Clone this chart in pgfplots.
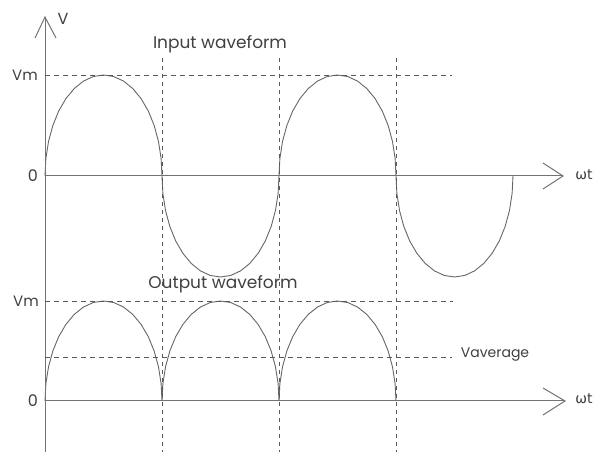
\documentclass[border=0pt]{standalone}
\usepackage{fontspec}
\setmainfont{Poppins}
\newfontfamily\greekfont{DejaVu Sans}
\usepackage{pgfplots}
\pgfplotsset{compat=1.18}
\usepackage{pgfplotstable}

% input waveform: omega t in degrees, V in units of Vm
\pgfplotstableread{
x y
0 0
1.37 0.174
5.43 0.342
12.06 0.5
21.06 0.643
32.15 0.766
45 0.866
59.22 0.940
74.37 0.985
90 1
105.63 0.985
120.78 0.940
135 0.866
147.85 0.766
158.94 0.643
167.94 0.5
174.57 0.342
178.63 0.174
180 0
181.37 -0.174
185.43 -0.342
192.06 -0.5
201.06 -0.643
212.15 -0.766
225 -0.866
239.22 -0.940
254.37 -0.985
270 -1
285.63 -0.985
300.78 -0.940
315 -0.866
327.85 -0.766
338.94 -0.643
347.94 -0.5
354.57 -0.342
358.63 -0.174
360 0
361.37 0.174
365.43 0.342
372.06 0.5
381.06 0.643
392.15 0.766
405 0.866
419.22 0.940
434.37 0.985
450 1
465.63 0.985
480.78 0.940
495 0.866
507.85 0.766
518.94 0.643
527.94 0.5
534.57 0.342
538.63 0.174
540 0
541.37 -0.174
545.43 -0.342
552.06 -0.5
561.06 -0.643
572.15 -0.766
585 -0.866
599.22 -0.940
614.37 -0.985
630 -1
645.63 -0.985
660.78 -0.940
675 -0.866
687.85 -0.766
698.94 -0.643
707.94 -0.5
714.57 -0.342
718.63 -0.174
720 0
}\inputwave

% output waveform (full-wave rectified)
\pgfplotstableread{
x y
0 0
1.37 0.174
5.43 0.342
12.06 0.5
21.06 0.643
32.15 0.766
45 0.866
59.22 0.940
74.37 0.985
90 1
105.63 0.985
120.78 0.940
135 0.866
147.85 0.766
158.94 0.643
167.94 0.5
174.57 0.342
178.63 0.174
180 0
181.37 0.174
185.43 0.342
192.06 0.5
201.06 0.643
212.15 0.766
225 0.866
239.22 0.940
254.37 0.985
270 1
285.63 0.985
300.78 0.940
315 0.866
327.85 0.766
338.94 0.643
347.94 0.5
354.57 0.342
358.63 0.174
360 0
361.37 0.174
365.43 0.342
372.06 0.5
381.06 0.643
392.15 0.766
405 0.866
419.22 0.940
434.37 0.985
450 1
465.63 0.985
480.78 0.940
495 0.866
507.85 0.766
518.94 0.643
527.94 0.5
534.57 0.342
538.63 0.174
540 0
}\outputwave

\definecolor{curve}{gray}{0.4}
\definecolor{axisc}{gray}{0.45}
\definecolor{dashc}{gray}{0.35}

\begin{document}
\begin{tikzpicture}
\path[use as bounding box] (0,0) rectangle (595pt,452pt);

\begin{axis}[
  at={(0,0)}, anchor=south west,
  width=595pt, height=452pt, scale only axis,
  xmin=-69.2308, xmax=846.1538,
  ymin=-2.73267, ymax=1.742574,
  hide axis, clip=false]
  \addplot[curve, line width=0.9pt] table[x=x,y=y] {\inputwave};
\end{axis}

\begin{axis}[
  at={(0,0)}, anchor=south west,
  width=595pt, height=452pt, scale only axis,
  xmin=-69.2308, xmax=846.1538,
  ymin=-0.51, ymax=4.01,
  hide axis, clip=false]
  \addplot[curve, line width=0.9pt] table[x=x,y=y] {\outputwave};
\end{axis}

\begin{scope}[x=1pt, y=-1pt, yshift=452pt]
  % vertical axis
  \draw[axisc, line width=1pt] (45,17) -- (45,452);
  \draw[axisc, line width=1pt] (35,38) -- (45,17) -- (56,38);
  \node[font=\fontsize{16}{16}\selectfont, text=black!75] at (63,19) {V};
  % top horizontal axis
  \draw[axisc, line width=1pt] (45,176) -- (563,176);
  \draw[axisc, line width=1pt] (543,163) -- (563,176) -- (543,189);
  % bottom horizontal axis
  \draw[axisc, line width=1pt] (45,401) -- (565,401);
  \draw[axisc, line width=1pt] (543,388) -- (565,401) -- (543,415);
  % dashed lines
  \foreach \xx in {162,279,396} {
    \draw[dashc, line width=0.8pt, dash pattern=on 4pt off 4pt] (\xx,58) -- (\xx,452);
  }
  \draw[dashc, line width=0.8pt, dash pattern=on 5pt off 4pt] (45,75) -- (452,75);
  \draw[dashc, line width=0.8pt, dash pattern=on 5pt off 4pt] (45,301) -- (453,301);
  \draw[dashc, line width=0.8pt, dash pattern=on 5pt off 4pt] (45,357) -- (452,357);
  % labels
  \node[font=\fontsize{15}{15}\selectfont, text=black!75] at (25,75) {Vm};
  \node[font=\fontsize{15}{15}\selectfont, text=black!75] at (26,301) {Vm};
  \node[font=\fontsize{16}{16}\selectfont, text=black!75] at (33,176) {0};
  \node[font=\fontsize{16}{16}\selectfont, text=black!75] at (33,401) {0};
  \node[font=\greekfont\fontsize{14}{14}\selectfont, text=black!75] at (584,175) {ωt};
  \node[font=\greekfont\fontsize{14}{14}\selectfont, text=black!75] at (584,399) {ωt};
  \node[font=\fontsize{17}{17}\selectfont, text=black!75] at (220,44) {Input waveform};
  \node[font=\fontsize{17}{17}\selectfont, text=black!75] at (223,284) {Output waveform};
  \node[font=\fontsize{14}{14}\selectfont, text=black!75] at (495,355) {Vaverage};
\end{scope}
\end{tikzpicture}
\end{document}
